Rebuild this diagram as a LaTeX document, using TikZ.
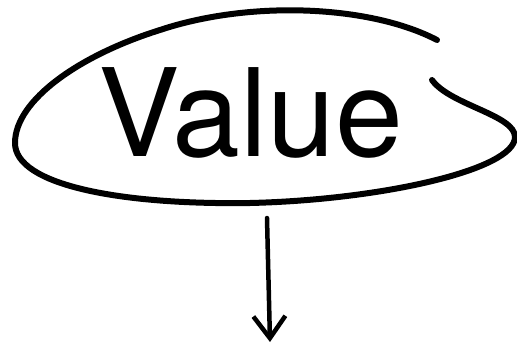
\documentclass[tikz,border=0pt]{standalone}
\usepackage{fontspec}
\setmainfont{TeX Gyre Heros}
\usetikzlibrary{arrows.meta}
\tikzset{
  sketch/.style={line width=6pt, line cap=round, line join=round, draw=black},
  pointer/.style={line width=4.5pt, line cap=round, -{Straight Barb[length=22pt,width=32pt,line width=4.5pt]}},
  bigword/.style={font=\fontsize{122}{130}\selectfont, anchor=base, inner sep=0pt}
}
\begin{document}
\begin{tikzpicture}[x=1pt,y=-1pt]
\useasboundingbox (0,0) rectangle (517,350);
\node[bigword] (v) at (251,157) {Value};
\draw[sketch] (437,40) .. controls (370,5) and (250,0) .. (160,30)
  .. controls (80,55) and (15,100) .. (15,143)
  .. controls (15,185) and (120,205) .. (250,203)
  .. controls (380,200) and (515,170) .. (515,137)
  .. controls (515,115) and (450,105) .. (432,80);
\coordinate (from) at (267,218);
\coordinate (tip) at (270,342);
\draw[pointer] (from) -- (tip);
\end{tikzpicture}
\end{document}
